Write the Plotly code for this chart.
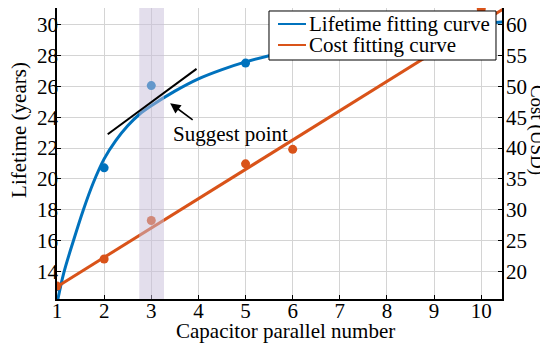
import plotly.graph_objects as go

# ---- data ----
life_x = [1, 2, 3, 5, 10]
life_y = [13.0, 20.72, 26.06, 27.52, 30.1]
cost_x = [1, 2, 3, 5, 6, 10]
cost_y = [17.6, 22.0, 28.25, 37.45, 39.8, 62.6]

life_fit_x = [1.0, 1.14, 1.35, 1.56, 1.77, 2.0, 2.25, 2.5, 2.75, 3.0, 3.5, 4.0, 4.5, 5.0, 5.5,
              6.5, 7.5, 8.5, 9.5, 10.45]
life_fit_y = [11.9, 13.85, 16.0, 18.0, 19.75, 21.3, 22.5, 23.45, 24.2, 24.75, 25.7, 26.5, 27.1, 27.6, 28.0,
              28.65, 29.15, 29.6, 29.95, 30.2]
cost_fit_x = [1.0, 10.45]
cost_fit_y = [17.5, 62.5]

tangent_x = [2.076, 3.96]
tangent_y = [22.9, 27.15]
band_x = [2.745, 3.27]

x_ticks = [1, 2, 3, 4, 5, 6, 7, 8, 9, 10]
life_ticks = [14, 16, 18, 20, 22, 24, 26, 28, 30]
cost_ticks = [20, 25, 30, 35, 40, 45, 50, 55, 60]

series_names = ["Lifetime fitting curve", "Cost fitting curve"]

BLUE = "#0072BD"
ORANGE = "#D95319"
FONT = "Liberation Serif"
FS = 21

fig = go.Figure()

fig.add_trace(go.Scatter(x=life_fit_x, y=life_fit_y, mode="lines",
                         line=dict(color=BLUE, width=3, shape="spline", smoothing=1.0),
                         name=series_names[0], yaxis="y"))
fig.add_trace(go.Scatter(x=cost_fit_x, y=cost_fit_y, mode="lines",
                         line=dict(color=ORANGE, width=3),
                         name=series_names[1], yaxis="y2"))
fig.add_trace(go.Scatter(x=life_x, y=life_y, mode="markers",
                         marker=dict(color=BLUE, size=9), showlegend=False, yaxis="y"))
fig.add_trace(go.Scatter(x=cost_x, y=cost_y, mode="markers",
                         marker=dict(color=ORANGE, size=9), showlegend=False, yaxis="y2"))

# highlight band and tangent
fig.add_shape(type="rect", xref="x", yref="paper", x0=band_x[0], x1=band_x[1], y0=0, y1=1,
              fillcolor="rgba(200,189,217,0.5)", line=dict(width=0), layer="above")
fig.add_shape(type="line", xref="x", yref="y", x0=tangent_x[0], y0=tangent_y[0],
              x1=tangent_x[1], y1=tangent_y[1], line=dict(color="black", width=2), layer="above")

# arrow + label
fig.add_annotation(x=3.40, y=24.92, xref="x", yref="y", ax=3.91, ay=23.76, axref="x", ayref="y",
                   text="", showarrow=True, arrowhead=2, arrowsize=1.3, arrowwidth=1.6,
                   arrowcolor="black")
fig.add_annotation(x=4.68, y=22.92, xref="x", yref="y", text="Suggest point", showarrow=False,
                   font=dict(family=FONT, size=FS, color="black"))

# legend box (drawn as layout items to match the reference's compact box)
LX0, LX1, LY0, LY1 = 0.4764, 0.9865, 0.8213, 0.9897
fig.add_shape(type="rect", xref="paper", yref="paper", x0=LX0, x1=LX1, y0=LY0, y1=LY1,
              fillcolor="white", line=dict(color="black", width=1), layer="above")
for i, (name, col) in enumerate(zip(series_names, [BLUE, ORANGE])):
    yy = 0.945 - i * 0.0722
    fig.add_shape(type="line", xref="paper", yref="paper", x0=0.4966, x1=0.5596, y0=yy, y1=yy,
                  line=dict(color=col, width=2), layer="above")
    fig.add_annotation(x=0.5618, y=yy, xref="paper", yref="paper", text=name, showarrow=False,
                       xanchor="left", yanchor="middle",
                       font=dict(family=FONT, size=FS, color="black"))

# axis titles
fig.add_annotation(x=-0.0854, y=0.581, xref="paper", yref="paper", text="Lifetime (years)",
                   showarrow=False, textangle=-90, xanchor="center", yanchor="middle",
                   font=dict(family=FONT, size=FS, color="black"))
fig.add_annotation(x=1.0787, y=0.581, xref="paper", yref="paper", text="Cost (USD)",
                   showarrow=False, textangle=90, xanchor="center", yanchor="middle",
                   font=dict(family=FONT, size=19, color="black"))
fig.add_annotation(x=0.513, y=-0.11, xref="paper", yref="paper", text="Capacitor parallel number",
                   showarrow=False, xanchor="center", yanchor="middle",
                   font=dict(family=FONT, size=FS, color="black"))

axis_common = dict(showline=True, linecolor="black", linewidth=1.5,
                   ticks="inside", ticklen=4, tickcolor="black", automargin=False,
                   tickfont=dict(family=FONT, size=FS, color="black"))

# the page body adds an 8px offset, so the figure is 8px smaller and margins shifted
fig.update_layout(
    width=540, height=336,
    margin=dict(l=49, r=46, t=0, b=45, autoexpand=False),
    paper_bgcolor="white", plot_bgcolor="white",
    font=dict(family=FONT, size=FS, color="black"),
    showlegend=False,
    xaxis=dict(range=[1, 10.44], tickvals=x_ticks, mirror=True,
               showgrid=True, gridcolor="#d4d4d4", gridwidth=1, zeroline=False,
               ticklabelstandoff=-8, **axis_common),
    yaxis=dict(range=[12.2, 31.1], tickvals=life_ticks,
               showgrid=True, gridcolor="#d4d4d4", gridwidth=1, zeroline=False,
               ticklabelstandoff=-7, **axis_common),
    yaxis2=dict(range=[15.5, 62.75], tickvals=cost_ticks, overlaying="y", side="right",
                showgrid=False, zeroline=False, ticklabelstandoff=-2, **axis_common),
)

fig.write_html("out.html")
